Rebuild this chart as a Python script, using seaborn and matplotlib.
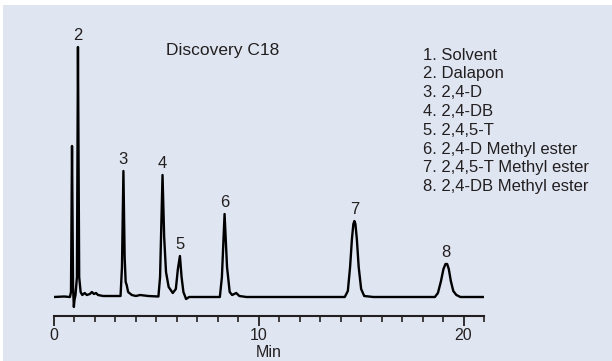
import matplotlib
matplotlib.use("Agg")
import matplotlib.pyplot as plt
from matplotlib.ticker import MultipleLocator
import seaborn as sns
import pandas as pd

# hand-traced chromatogram (time in min, detector response, arbitrary units)
time_min = [0.0, 0.5, 0.78, 0.83, 0.88, 0.93, 0.97, 1.0, 1.05, 1.12, 1.17, 1.23,
            1.3, 1.38, 1.5, 1.6, 1.75, 1.85, 1.95, 2.05, 2.15, 2.4, 2.8, 3.25,
            3.32, 3.39, 3.45, 3.5, 3.55, 3.62, 3.8, 4.0, 4.2, 4.6, 5.1, 5.18,
            5.3, 5.38, 5.47, 5.6, 5.8, 5.95, 6.05, 6.15, 6.23, 6.32, 6.45, 6.6,
            8.1, 8.2, 8.33, 8.45, 8.58, 8.7, 8.9, 9.05, 9.4, 14.2, 14.35, 14.46,
            14.55, 14.62, 14.67, 14.72, 14.79, 14.88, 15.0, 15.15, 15.6, 18.6,
            18.75, 18.9, 19.02, 19.12, 19.2, 19.28, 19.38, 19.5, 19.65, 19.85, 21.0]
signal = [0, 0.5, 0, 5, 151, 10, -10, -3, 2, 20, 250, 20,
          5, 2, 4, 2, 3, 5, 3, 4, 2, 1, 1, 1,
          30, 126, 40, 15, 12, 5, 2, 1, 2, 1, 0.5, 20,
          122, 60, 25, 10, 4, 8, 28, 41, 20, 5, -2, 0,
          0, 20, 83, 30, 5, 2, 4, 1, 0, 0, 6, 30,
          58, 73, 76, 73, 58, 30, 8, 1, 0, 0,
          4, 16, 28, 33, 33, 28, 16, 6, 2, 0, 0]

peak_labels = ["2", "3", "4", "5", "6", "7", "8"]
peak_times = [1.17, 3.39, 5.3, 6.15, 8.33, 14.67, 19.16]
peak_heights = [250, 126, 122, 41, 83, 76, 33]

compounds = ["1. Solvent", "2. Dalapon", "3. 2,4-D", "4. 2,4-DB", "5. 2,4,5-T",
             "6. 2,4-D Methyl ester", "7. 2,4,5-T Methyl ester",
             "8. 2,4-DB Methyl ester"]

df = pd.DataFrame({"Min": time_min, "signal": signal})

bg = "#DFE6F2"
ink = "#231F20"

sns.set_style("ticks")
plt.rcParams["font.family"] = ["Liberation Sans", "DejaVu Sans"]

W, H = 612, 361
fig = plt.figure(figsize=(W / 100, H / 100), dpi=100, facecolor="white")
fig.patches.append(plt.Rectangle((3 / W, 0), 1, 1 - 5 / H, transform=fig.transFigure,
                                 facecolor=bg, edgecolor="none", zorder=-10))

ax = fig.add_axes([54 / W, 1 - 316 / H, 430 / W, 276 / H])
ax.set_facecolor(bg)
sns.lineplot(data=df, x="Min", y="signal", ax=ax, color="black", linewidth=1.7, sort=False)

ax.set_xlim(0, 21)
ax.set_ylim(-19, 257)
ax.xaxis.set_major_locator(MultipleLocator(10))
ax.xaxis.set_minor_locator(MultipleLocator(1))
ax.tick_params(axis="x", which="major", direction="out", length=7, width=1.3,
               labelsize=11.5, colors=ink, pad=2)
ax.tick_params(axis="x", which="minor", direction="out", length=4, width=1.2, colors=ink)
ax.set_yticks([])
ax.set_ylabel("")
ax.set_xlabel("Min", fontsize=11.5, color=ink, labelpad=1)
for s in ["left", "right", "top"]:
    ax.spines[s].set_visible(False)
ax.spines["bottom"].set_linewidth(1.5)
ax.spines["bottom"].set_color(ink)

for lab, t, h in zip(peak_labels, peak_times, peak_heights):
    ax.annotate(lab, (t, h), xytext=(0, 3), textcoords="offset points",
                ha="center", va="bottom", fontsize=12, color=ink)

fig.text(223 / W, 1 - 50 / H, "Discovery C18", ha="center", va="center",
         fontsize=12.5, color=ink)
for i, c in enumerate(compounds):
    fig.text(423 / W, 1 - (55 + i * 18.8) / H, c, ha="left", va="center",
             fontsize=12, color=ink)

fig.savefig("out.png", dpi=100, facecolor="white")
